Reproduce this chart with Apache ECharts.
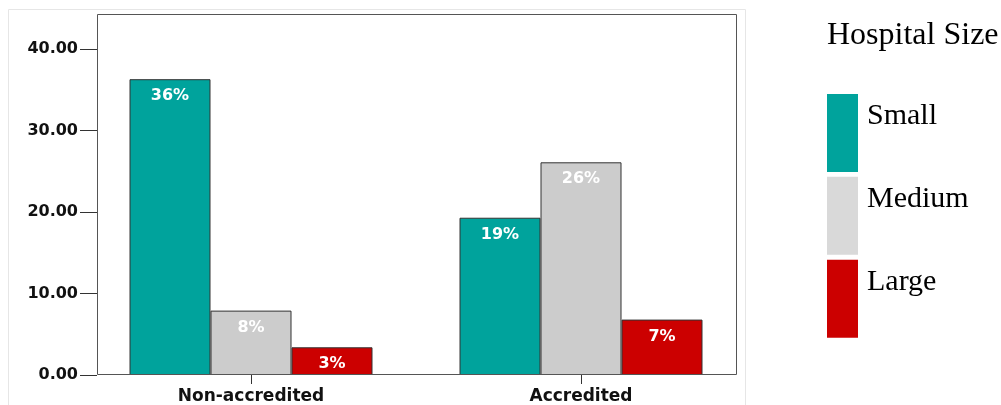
<body style="margin:0">
    <div id='main' style="width:1001px;height:405px;"></div>
</body>

<script src="https://cdn.jsdelivr.net/npm/echarts@6/dist/echarts.min.js"></script>
<script>
// data
var categories = ['Non-accredited', 'Accredited']
var sizes = ['Small', 'Medium', 'Large']
var smallVals = [36.3, 19.3]
var mediumVals = [7.9, 26.1]
var largeVals = [3.4, 6.8]
var smallLabels = ['36%', '19%']
var mediumLabels = ['8%', '26%']
var largeLabels = ['3%', '7%']
var yTicks = [0, 10, 20, 30, 40]

var colors = ['#00a39c', '#cccccc', '#cc0000']
var legendColors = ['#00a39c', '#d9d9d9', '#cc0000']

var chartDom = document.getElementById('main');
var myChart = echarts.init(chartDom);
var option;

var axisFont = 'DejaVu Sans'

function makeSeries(name, vals, labels, idx) {
  return {
    name: name,
    type: 'bar',
    data: vals,
    barWidth: 81,
    barGap: '0%',
    itemStyle: { color: colors[idx], borderColor: '#333', borderWidth: 1 },
    label: {
      show: true,
      position: 'insideTop',
      distance: 0,
      color: '#fff',
      fontFamily: axisFont,
      fontWeight: 'bold',
      fontSize: 16,
      formatter: function (p) { return labels[p.dataIndex]; }
    }
  }
}

option = {
  animation: false,
  title: {
    text: 'Hospital Size',
    left: 827,
    top: 11,
    padding: 0,
    textStyle: { fontFamily: 'Liberation Serif', fontSize: 32, fontWeight: 'normal', color: '#000' }
  },
  legend: {
    orient: 'vertical',
    left: 827,
    top: 93,
    padding: 0,
    itemWidth: 31,
    itemHeight: 78,
    itemGap: 4,
    icon: 'rect',
    itemStyle: { borderWidth: 0 },
    data: sizes.map(function (s, i) { return { name: s, itemStyle: { color: legendColors[i] } }; }),
    formatter: '{t|{name}}',
    textStyle: {
      rich: {
        t: { fontFamily: 'Liberation Serif', fontSize: 30, color: '#000', padding: [0, 0, 34, 4] }
      }
    }
  },
  grid: { left: 86, right: 255, top: 14, bottom: 30, containLabel: false, outerBoundsMode: 'none' },
  xAxis: {
    type: 'category',
    data: categories,
    axisLine: { show: false },
    axisTick: { show: true, alignWithLabel: true, length: 9, lineStyle: { color: '#333' } },
    axisLabel: { margin: 4, fontFamily: axisFont, fontWeight: 'bold', fontSize: 17, color: '#111' }
  },
  yAxis: {
    type: 'value',
    min: 0,
    max: 44.3,
    interval: 10,
    offset: -11,
    splitLine: { show: false },
    axisLine: { show: false },
    axisTick: { show: true, length: 17, customValues: yTicks, lineStyle: { color: '#333' } },
    axisLabel: {
      margin: 19,
      customValues: yTicks,
      fontFamily: axisFont,
      fontWeight: 'bold',
      fontSize: 16,
      color: '#111',
      formatter: function (v) { return v.toFixed(2); }
    }
  },
  graphic: [
    { type: 'rect', z: -1, shape: { x: 8.5, y: 9.5, width: 737, height: 420 }, style: { fill: 'none', stroke: '#e6e6e6', lineWidth: 1 } },
    { type: 'rect', z: 10, shape: { x: 97.5, y: 14.5, width: 639, height: 360 }, style: { fill: 'none', stroke: '#555', lineWidth: 1 } }
  ],
  series: [
    makeSeries(sizes[0], smallVals, smallLabels, 0),
    makeSeries(sizes[1], mediumVals, mediumLabels, 1),
    makeSeries(sizes[2], largeVals, largeLabels, 2)
  ]
};

option && myChart.setOption(option);
</script>
